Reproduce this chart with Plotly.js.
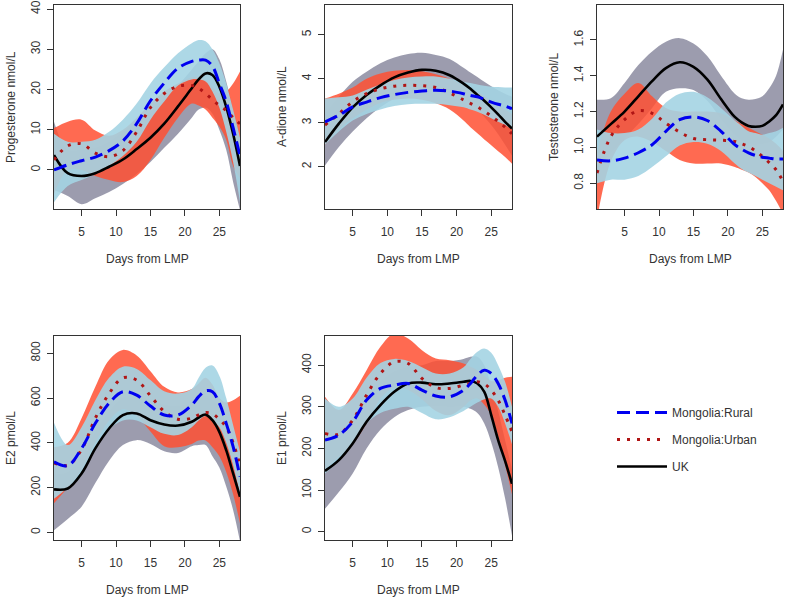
<!DOCTYPE html>
<html>
<head>
<meta charset="utf-8">
<script src="https://cdn.plot.ly/plotly-3.0.1.min.js"></script>
<style>html,body{margin:0;padding:0;background:#fff}#chart{width:787px;height:599px}</style>
</head>
<body>
<div id="chart"></div>
<script>
// Days from LMP at which the smooth curves were read
const days = [1,3,5,7,9,11,13,15,17,19,21,22,23,24,25,26,27,28];
const xTicks = [5,10,15,20,25];
const groups = ['Mongolia:Rural','Mongolia:Urban','UK'];

// Progesterone nmol/L
const progRuralFit = [0,1.3,2.3,3.2,4.8,7.2,11.5,17.2,21.6,25.3,27.0,27.3,27.3,25.8,21.5,17,10.5,3.5];
const progRuralLo  = [-8,-4,-2.5,-1,1,3.5,7,12.5,17,21,22.5,22.5,22,19.5,15.5,9.5,2,-8];
const progRuralHi  = [9,7,7,7.5,9.5,12.5,16.5,21.5,25.5,29,31.5,32.3,32,30,26.5,21.5,15,8];
const progUrbanFit = [2.5,6.0,6.5,4.2,3.3,4.8,9.5,15.5,19,20.8,21,20.3,19,17.5,16,14.8,13,11.5];
const progUrbanLo  = [-6,0,0,-1.5,-2.5,-3,-1.5,2.5,8,13,16.5,16,15,13,10.8,7.5,1,-2];
const progUrbanHi  = [10.4,12,12.5,9.8,8.5,10,13,16.5,19.5,21.5,23,23,22.3,20.7,19,19.5,21.5,24.5];
const progUKFit    = [3.7,-0.8,-1.5,-0.8,0.8,2.6,5.2,8.0,11.5,15.8,20.3,22.5,24,23.6,20.7,15.7,9,1];
const progUKLo     = [-5,-6.5,-8.5,-7,-5.5,-3.5,-1,2,5.5,9,13,15,15.5,14,10,5,-3,-10];
const progUKHi     = [12,5,5,5.5,7,9.5,12,14.5,17.5,21,25,27,29,30,27.5,22,15,8];

// A-dione nmol/L
const adioRuralFit = [3.02,3.17,3.36,3.47,3.57,3.64,3.69,3.72,3.74,3.72,3.66,3.62,3.59,3.53,3.47,3.42,3.38,3.32];
const adioRuralLo  = [2.5,2.8,3.05,3.2,3.3,3.38,3.42,3.43,3.43,3.4,3.35,3.3,3.25,3.18,3.1,3.02,2.95,2.85];
const adioRuralHi  = [3.55,3.58,3.62,3.75,3.87,3.97,4.03,4.05,4.05,4.0,3.93,3.9,3.87,3.84,3.82,3.81,3.8,3.8];
const adioUrbanFit = [2.95,3.2,3.48,3.66,3.77,3.83,3.85,3.84,3.8,3.68,3.52,3.44,3.36,3.26,3.15,3.03,2.9,2.75];
const adioUrbanLo  = [2.5,2.85,3.1,3.3,3.45,3.52,3.55,3.52,3.44,3.3,3.05,2.9,2.76,2.62,2.49,2.35,2.22,2.07];
const adioUrbanHi  = [3.55,3.66,3.8,4.0,4.12,4.18,4.2,4.17,4.1,4.0,3.85,3.77,3.7,3.6,3.5,3.4,3.3,3.2];
const adioUKFit    = [2.56,2.98,3.35,3.63,3.85,4.03,4.14,4.2,4.18,4.08,3.89,3.77,3.63,3.5,3.35,3.19,3.02,2.87];
const adioUKLo     = [2.03,2.45,2.8,3.1,3.35,3.55,3.7,3.78,3.78,3.7,3.55,3.43,3.3,3.13,2.95,2.74,2.5,2.25];
const adioUKHi     = [3.2,3.59,3.93,4.16,4.35,4.48,4.56,4.59,4.54,4.45,4.25,4.14,4.04,3.93,3.83,3.74,3.66,3.59];

// Testosterone nmol/L
const testRuralFit = [0.93,0.925,0.94,0.97,1.015,1.09,1.155,1.17,1.15,1.09,1.015,0.99,0.97,0.955,0.945,0.94,0.935,0.935];
const testRuralLo  = [0.8,0.82,0.82,0.84,0.89,0.95,1.01,1.03,1.02,0.98,0.91,0.88,0.86,0.84,0.82,0.8,0.78,0.76];
const testRuralHi  = [1.1,1.08,1.08,1.1,1.16,1.25,1.3,1.31,1.28,1.22,1.15,1.12,1.09,1.08,1.07,1.08,1.09,1.11];
const testUrbanFit = [0.857,1.06,1.155,1.205,1.19,1.135,1.085,1.05,1.043,1.04,1.033,1.02,1.005,0.98,0.95,0.915,0.875,0.81];
const testUrbanLo  = [0.6,0.92,1.04,1.06,1.03,0.98,0.93,0.91,0.91,0.91,0.89,0.875,0.86,0.835,0.8,0.76,0.7,0.63];
const testUrbanHi  = [0.97,1.2,1.3,1.36,1.285,1.22,1.2,1.2,1.2,1.19,1.15,1.13,1.11,1.09,1.07,1.05,1.02,0.98];
const testUKFit    = [1.06,1.13,1.2,1.285,1.37,1.443,1.475,1.45,1.38,1.27,1.17,1.14,1.12,1.115,1.12,1.145,1.18,1.24];
const testUKLo     = [0.86,0.97,1.05,1.13,1.22,1.31,1.33,1.32,1.26,1.16,1.07,1.04,1.02,1.015,1.02,1.03,1.06,1.1];
const testUKHi     = [1.266,1.275,1.36,1.46,1.536,1.59,1.61,1.58,1.51,1.4,1.3,1.275,1.266,1.27,1.285,1.33,1.4,1.546];

// E2 pmol/L
const e2RuralFit = [315,298,375,487,577,628,613,564,524,524,569,606,632,628,577,487,383,249];
const e2RuralLo  = [150,200,270,380,460,500,500,470,440,435,470,500,520,500,470,400,300,170];
const e2RuralHi  = [490,390,470,590,690,740,730,680,630,620,640,690,735,745,700,600,480,360];
const e2UrbanFit = [310,300,370,510,620,690,680,610,540,505,510,525,535,530,505,470,400,300];
const e2UrbanLo  = [130,200,280,400,500,550,520,450,385,380,395,410,410,380,340,270,170,40];
const e2UrbanHi  = [380,400,510,650,770,815,790,720,650,625,640,665,690,660,600,580,590,610];
const e2UKFit    = [192,196,263,375,464,524,531,501,482,477,494,513,526,501,449,367,263,159];
const e2UKLo     = [10,60,115,220,320,390,412,395,362,355,385,390,390,340,290,205,100,-40];
const e2UKHi     = [260,270,340,450,540,600,610,590,570,565,580,600,610,590,560,480,380,280];

// E1 pmol/L
const e1RuralFit = [220,232,264,316,344,352,356,340,326,324,340,356,376,388,380,356,316,260];
const e1RuralLo  = [140,170,210,260,285,295,300,285,270,275,290,300,310,318,320,300,260,210];
const e1RuralHi  = [320,300,320,370,405,415,410,395,380,380,395,415,432,440,430,400,360,300];
const e1UrbanFit = [236,234,268,328,380,408,404,368,346,344,352,356,360,355,340,316,280,240];
const e1UrbanLo  = [150,180,210,260,320,345,340,318,290,280,300,315,320,305,280,230,160,90];
const e1UrbanHi  = [324,292,332,388,444,476,464,436,416,412,404,396,388,375,362,364,370,372];
const e1UKFit    = [146,172,212,264,304,336,356,358,354,356,360,362,356,336,280,220,170,115];
const e1UKLo     = [55,95,140,200,245,275,292,300,302,300,300,295,285,260,215,155,80,-10];
const e1UKHi     = [200,240,270,320,360,385,395,400,410,410,415,420,420,400,350,290,220,150];

const panels = [
  {title:'Progesterone nmol/L', range:[-9.7,41.0], tickvals:[0,10,20,30,40], fmt:'',
   rural:[progRuralFit,progRuralLo,progRuralHi], urban:[progUrbanFit,progUrbanLo,progUrbanHi], uk:[progUKFit,progUKLo,progUKHi]},
  {title:'A-dione nmol/L', range:[1.04,5.675], tickvals:[2,3,4,5], fmt:'',
   rural:[adioRuralFit,adioRuralLo,adioRuralHi], urban:[adioUrbanFit,adioUrbanLo,adioUrbanHi], uk:[adioUKFit,adioUKLo,adioUKHi]},
  {title:'Testosterone nmol/L', range:[0.656,1.795], tickvals:[0.8,1.0,1.2,1.4,1.6], fmt:'.1f',
   rural:[testRuralFit,testRuralLo,testRuralHi], urban:[testUrbanFit,testUrbanLo,testUrbanHi], uk:[testUKFit,testUKLo,testUKHi]},
  {title:'E2 pmol/L', range:[-34,877], tickvals:[0,200,400,600,800], fmt:'',
   rural:[e2RuralFit,e2RuralLo,e2RuralHi], urban:[e2UrbanFit,e2UrbanLo,e2UrbanHi], uk:[e2UKFit,e2UKLo,e2UKHi]},
  {title:'E1 pmol/L', range:[-20,470], tickvals:[0,100,200,300,400], fmt:'',
   rural:[e1RuralFit,e1RuralLo,e1RuralHi], urban:[e1UrbanFit,e1UrbanLo,e1UrbanHi], uk:[e1UKFit,e1UKLo,e1UKHi]}
];

const W = 787, H = 599;
// plot boxes in pixels [left, right, top, bottom]
const boxes = [[54,240,5,209],[325,512,5,209],[597,783,5,209],[54,240,336,540],[325,512,336,540]];

const bandFill = {uk:'rgba(90,90,120,0.6)', urban:'rgba(255,80,50,0.85)', rural:'rgba(164,212,227,0.9)'};
const lineStyle = {
  rural:{color:'#0000f0', width:3, dash:'13px,6px'},
  urban:{color:'#b01515', width:3, dash:'3px,7px'},
  uk:{color:'#000000', width:2.6, dash:'solid'}
};
const names = {rural:'Mongolia:Rural', urban:'Mongolia:Urban', uk:'UK'};
const ranks = {rural:1, urban:2, uk:3};

const traces = [];
const layout = {
  width:W, height:H, margin:{l:0,r:0,t:0,b:0},
  paper_bgcolor:'#fff', plot_bgcolor:'#fff',
  font:{family:'"Liberation Sans", Arial, sans-serif', size:12, color:'#333'},
  showlegend:true,
  legend:{x:612/W, y:1-398/H, xanchor:'left', yanchor:'top', bgcolor:'rgba(0,0,0,0)',
          font:{size:12,color:'#333'}, tracegroupgap:8, traceorder:'grouped', itemwidth:50},
  annotations:[]
};

panels.forEach((p,i)=>{
  const k = i===0 ? '' : String(i+1);
  const xa = 'x'+k, ya = 'y'+k;
  const b = boxes[i];
  layout['xaxis'+k] = {
    domain:[b[0]/W, b[1]/W], anchor:ya, range:[1,28], tickvals:xTicks,
    showline:true, mirror:true, linecolor:'#333', linewidth:1, ticks:'outside', ticklen:6, tickcolor:'#333',
    showgrid:false, zeroline:false, ticklabelstandoff:6, tickfont:{size:12,color:'#333'}, fixedrange:true
  };
  layout['yaxis'+k] = {
    domain:[1-b[3]/H, 1-b[2]/H], anchor:xa, range:p.range, tickvals:p.tickvals, tickformat:p.fmt,
    showline:true, mirror:true, linecolor:'#333', linewidth:1, ticks:'outside', ticklen:6, tickcolor:'#333',
    showgrid:false, zeroline:false, tickangle:-90, ticklabelstandoff:2, tickfont:{size:12,color:'#333'}, fixedrange:true
  };
  layout.annotations.push({text:'Days from LMP', xref:xa+' domain', yref:ya+' domain', x:0.5, y:0,
    yshift:-50, xanchor:'center', yanchor:'middle', showarrow:false, font:{size:12,color:'#333'}});
  layout.annotations.push({text:p.title, xref:xa+' domain', yref:ya+' domain', x:0, y:0.5,
    xshift:-43, xanchor:'center', yanchor:'middle', textangle:-90, showarrow:false, font:{size:12,color:'#333'}});

  // bands: UK first, then Urban, then Rural on top
  ['uk','urban','rural'].forEach(g=>{
    const [fit,lo,hi] = p[g];
    traces.push({x:days, y:lo, xaxis:xa, yaxis:ya, mode:'lines', line:{width:0, shape:'spline', smoothing:1},
      showlegend:false, hoverinfo:'skip'});
    traces.push({x:days, y:hi, xaxis:xa, yaxis:ya, mode:'lines', line:{width:0, shape:'spline', smoothing:1},
      fill:'tonexty', fillcolor:bandFill[g], showlegend:false, hoverinfo:'skip'});
  });
  // fitted lines
  ['uk','urban','rural'].forEach(g=>{
    const fit = p[g][0];
    traces.push({x:days, y:fit, xaxis:xa, yaxis:ya, mode:'lines', name:names[g],
      line:Object.assign({shape:'spline', smoothing:1}, lineStyle[g]),
      showlegend:i===0, legendgroup:g, legendrank:ranks[g]});
  });
});

Plotly.newPlot('chart', traces, layout, {staticPlot:true, displayModeBar:false});
</script>
</body>
</html>
